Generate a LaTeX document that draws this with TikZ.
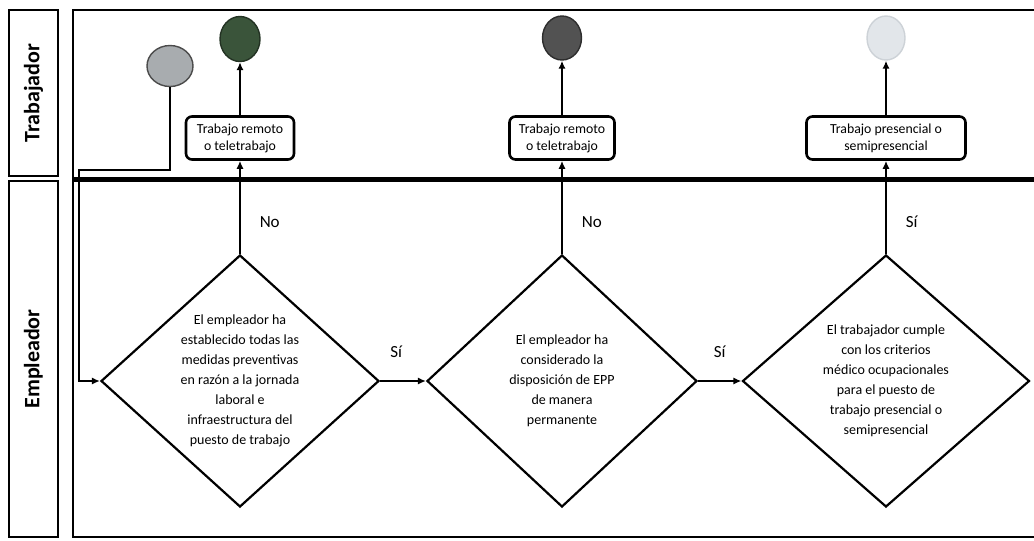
\documentclass[tikz,border=0pt]{standalone}
\usepackage{fontspec}
\setmainfont{Carlito}
\usetikzlibrary{arrows.meta, shapes.geometric}

\definecolor{grisclaro}{RGB}{168,172,175}
\definecolor{grisborde}{RGB}{75,75,75}
\definecolor{verdeosc}{RGB}{58,84,58}
\definecolor{verdeborde}{RGB}{35,50,35}
\definecolor{grisosc}{RGB}{82,82,82}
\definecolor{grisoscborde}{RGB}{45,45,45}
\definecolor{celeste}{RGB}{226,230,234}
\definecolor{celesteborde}{RGB}{205,210,215}

\begin{document}
\begin{tikzpicture}[x=0.5pt, y=-0.5pt, line width=1.1pt, >={Latex[length=4pt,width=3.6pt]},
  lane/.style={draw, rotate=90, inner sep=0pt, font=\bfseries\fontsize{11}{13}\selectfont},
  estado/.style={ellipse, draw, line width=0.7pt, inner sep=0pt},
  caja/.style={draw, rounded corners=3pt, line width=1.3pt, align=center, inner sep=1pt,
    minimum height=21.5pt, font=\fontsize{6.9}{8.5}\selectfont},
  decision/.style={diamond, draw, line width=1.1pt, align=center, inner sep=0pt, aspect=1.1,
    minimum height=126pt, font=\fontsize{7}{10}\selectfont},
  etiq/.style={font=\fontsize{8.5}{10}\selectfont}]
\useasboundingbox (0,0) rectangle (1034,541);

% carriles
\path (33.5,93) node[lane, minimum width=83pt, minimum height=24.5pt] (trab) {Trabajador}
      (33.5,359) node[lane, minimum width=178pt, minimum height=24.5pt] (empl) {Empleador};
\draw (1100,10) -- (73,10) -- (73,537) -- (1100,537);
\draw[line width=2.5pt] (73,179) -- (1100,179);

% estados
\path (170,66) node[estado, fill=grisclaro, draw=grisborde, minimum width=23pt, minimum height=20.5pt] (c0) {}
      (240,39) node[estado, fill=verdeosc, draw=verdeborde, minimum width=20pt, minimum height=22.5pt] (c1) {}
      (562,38) node[estado, fill=grisosc, draw=grisoscborde, minimum width=19.5pt, minimum height=22pt] (c2) {}
      (886,38) node[estado, fill=celeste, draw=celesteborde, minimum width=19pt, minimum height=22pt] (c3) {};

% resultados
\path (240,138) node[caja, minimum width=54pt] (b1) {Trabajo remoto\\o teletrabajo}
      (562,138) node[caja, minimum width=52.5pt] (b2) {Trabajo remoto\\o teletrabajo}
      (886,138) node[caja, minimum width=79.5pt] (b3) {Trabajo presencial o\\semipresencial};

% decisiones
\path (240,381) node[decision, minimum width=139pt] (d1) {El empleador ha\\establecido todas las\\medidas preventivas\\en razón a la jornada\\laboral e\\infraestructura del\\puesto de trabajo}
      (562,381) node[decision, minimum width=135pt] (d2) {El empleador ha\\considerado la\\disposición de EPP\\de manera\\permanente}
      (886,381) node[decision, minimum width=143.5pt] (d3) {El trabajador cumple\\con los criterios\\médico ocupacionales\\para el puesto de\\trabajo presencial o\\semipresencial};

\coordinate (codo) at (79,170);
\draw[->] (c0) |- (codo) |- (d1);

\draw[->] (d1) to node [etiq, right=6pt, pos=0.34] {No} (b1);
\draw[->] (d2) to node [etiq, right=6pt, pos=0.34] {No} (b2);
\draw[->] (d3) to node [etiq, right=6pt, pos=0.34] {Sí} (b3);
\draw[->] (b1) -- (c1);
\draw[->] (b2) -- (c2);
\draw[->] (b3) -- (c3);
\draw[->] (d1) to node [etiq, above=8pt, pos=0.35] {Sí} (d2);
\draw[->] (d2) to node [etiq, above=8pt, pos=0.5] {Sí} (d3);
\end{tikzpicture}
\end{document}
